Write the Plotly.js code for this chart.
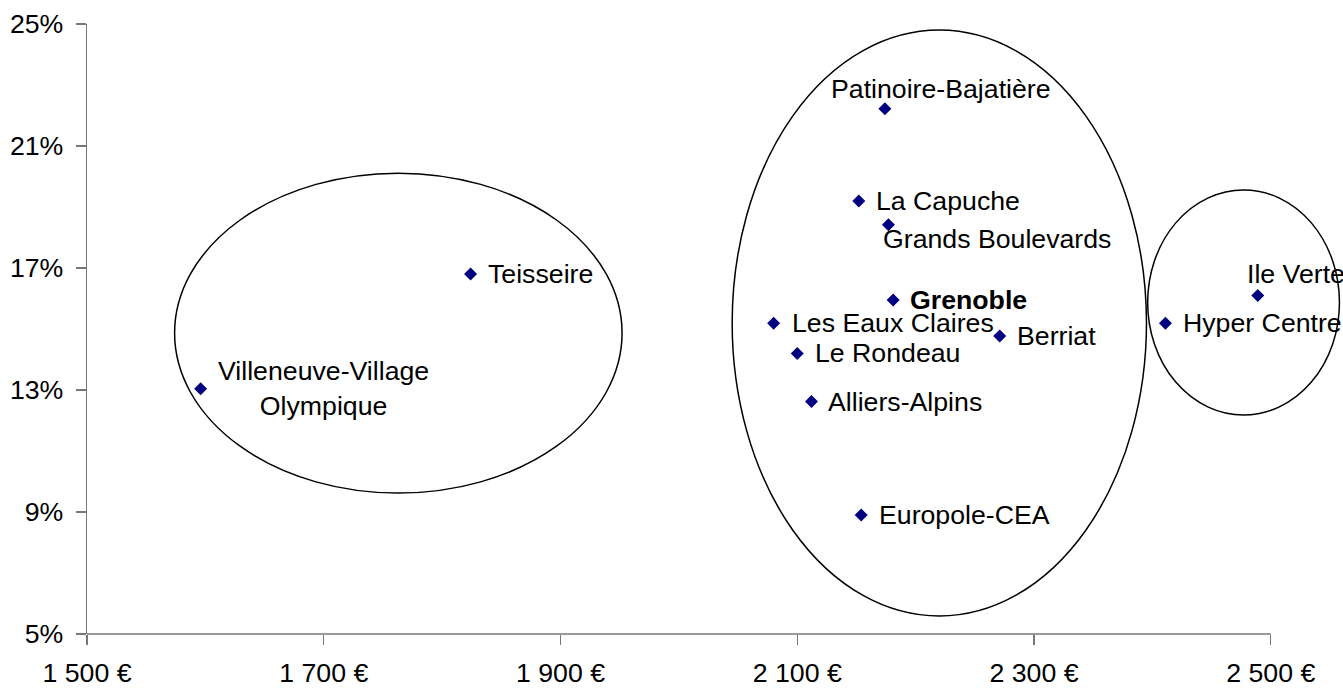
<!DOCTYPE html>
<html>
<head>
<meta charset="utf-8">
<script src="https://cdn.plot.ly/plotly-3.0.1.min.js"></script>
<style>html,body{margin:0;padding:0;background:#fff;}#chart{width:1343px;height:688px;}</style>
</head>
<body>
<div id="chart"></div>
<script>
// Data
var quartiers = ["Villeneuve-Village<br>Olympique","Teisseire","Patinoire-Bajatière","La Capuche","Grands Boulevards","<b>Grenoble</b>","Les Eaux Claires","Berriat","Le Rondeau","Alliers-Alpins","Europole-CEA","Ile Verte","Hyper Centre"];
var revenu = [1596, 1824, 2174, 2152, 2177, 2181, 2080, 2271, 2100, 2112, 2154, 2489, 2411];
var taux   = [13.04, 16.80, 22.22, 19.20, 18.42, 15.95, 15.19, 14.77, 14.20, 12.62, 8.90, 16.10, 15.19];
// label offsets (pixels) relative to marker
var labelDx = [15, 15, -56, 15, -7, 15, 16, 15, 16, 15, 16, -13, 16];
var labelDy = [0, 0, 20, 0, -14, 0, 0, 0, 0, 0, 0, 21, 0];

var xTickVals = [1500, 1700, 1900, 2100, 2300, 2500];
var xTickText = ["1 500 €","1 700 €","1 900 €","2 100 €","2 300 €","2 500 €"];
var yTickVals = [5, 9, 13, 17, 21, 25];
var yTickText = ["5%","9%","13%","17%","21%","25%"];

// groups (ellipses) in data units: [x0, x1, y0, y1]
var groupX0 = [1574, 2045, 2396];
var groupX1 = [1952, 2395, 2558];
var groupY0 = [9.62, 5.59, 12.18];
var groupY1 = [20.11, 24.80, 19.56];

var FONT = "Liberation Sans, Arial, sans-serif";
var FS = 26.7;

var trace = {
  type: "scatter", mode: "markers",
  x: revenu, y: taux,
  marker: {symbol: "diamond", size: 10, color: "#000080"},
  hoverinfo: "skip", showlegend: false, cliponaxis: false
};

var annotations = quartiers.map(function(q, i){
  return {
    x: revenu[i], y: taux[i], xref: "x", yref: "y",
    text: q, showarrow: false, xanchor: "left", yanchor: "middle",
    align: "center", xshift: labelDx[i], yshift: labelDy[i],
    font: {family: FONT, size: FS, color: "#000"}
  };
});

var shapes = groupX0.map(function(x0, i){
  return {type: "circle", xref: "x", yref: "y", x0: x0, x1: groupX1[i], y0: groupY0[i], y1: groupY1[i],
          line: {color: "#000", width: 1.5}, fillcolor: "rgba(0,0,0,0)", layer: "above"};
});
shapes.push({type: "line", xref: "x", yref: "paper", x0: xTickVals[0], x1: xTickVals[xTickVals.length-1], y0: 0, y1: 0,
             line: {color: "#777", width: 1.3}});

var layout = {
  width: 1343, height: 688,
  margin: {l: 87, r: 0, t: 24, b: 54, pad: 0},
  paper_bgcolor: "#fff", plot_bgcolor: "#fff",
  font: {family: FONT, size: FS, color: "#000"},
  xaxis: {range: [1500, 2561], tickmode: "array", tickvals: xTickVals, ticktext: xTickText,
          showgrid: false, zeroline: false, showline: false, ticks: "outside", ticklen: 10, tickwidth: 1.3,
          tickcolor: "#777", ticklabelstandoff: 5, tickfont: {family: FONT, size: FS, color: "#000"}},
  yaxis: {range: [5, 25], tickmode: "array", tickvals: yTickVals, ticktext: yTickText,
          showgrid: false, zeroline: false, showline: true, linecolor: "#777", linewidth: 1.3,
          ticks: "outside", ticklen: 10, tickwidth: 1.3, tickcolor: "#777", ticklabelstandoff: 7,
          tickfont: {family: FONT, size: FS, color: "#000"}},
  shapes: shapes,
  annotations: annotations,
  showlegend: false
};

Plotly.newPlot("chart", [trace], layout, {staticPlot: true, displayModeBar: false});
</script>
</body>
</html>
